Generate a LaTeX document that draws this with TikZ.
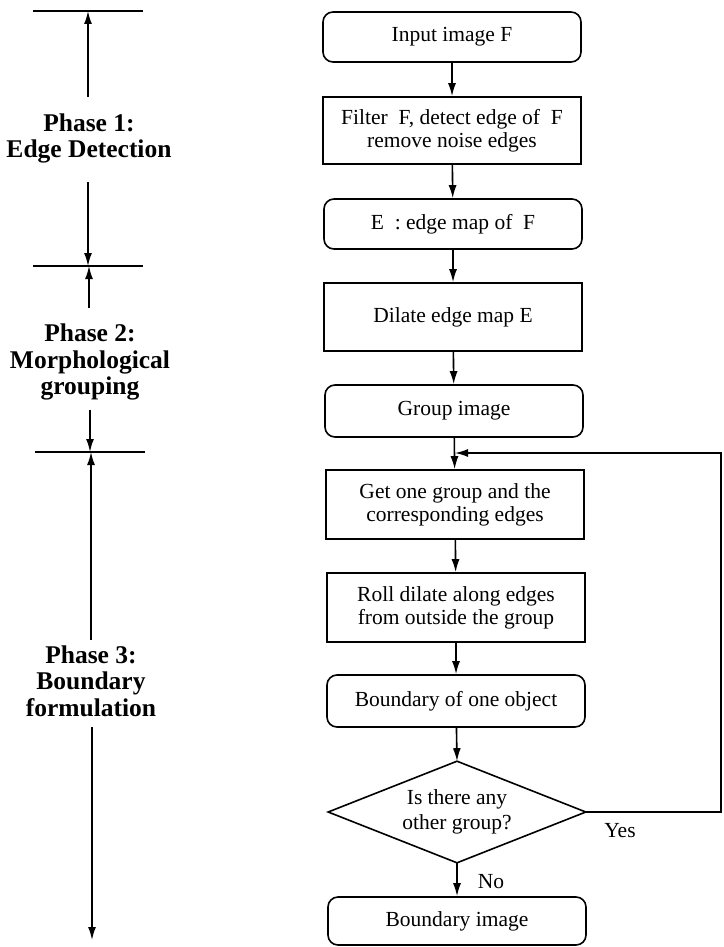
\documentclass[tikz,border=0pt]{standalone}
\usepackage{fontspec}
\setmainfont{Liberation Serif}
\usetikzlibrary{arrows.meta}
\begin{document}
\begin{tikzpicture}[x=1pt,y=-1pt,
  line width=1.6pt,
  arr/.style={-{Latex[length=13pt,width=8pt]}},
  proc/.style={draw, rectangle, minimum width=258pt, align=center, font=\fontsize{21.5}{23}\selectfont, inner sep=0pt},
  term/.style={proc, rounded corners=10pt},
  phase/.style={align=center, font=\fontsize{25.5}{26.5}\selectfont\bfseries},
  lbl/.style={font=\fontsize{21.5}{23}\selectfont}]
\useasboundingbox (0,0) rectangle (723,947);
% flow chart
\node[term, minimum height=50pt] (in) at (452,37) {Input image F};
\node[proc, minimum height=67pt] (filt) at (452,130.5) {Filter\ \ F, detect edge of\ \ F\\remove noise edges};
\node[term, minimum height=50pt] (emap) at (453,224) {E\ \ : edge map of\ \ F};
\node[proc, minimum height=68pt] (dil) at (453,317) {Dilate edge map E};
\node[term, minimum height=52pt] (grp) at (454,411) {Group image};
\node[proc, minimum height=69pt] (get) at (455,504.5) {Get one group and the\\corresponding edges};
\node[proc, minimum height=69pt] (roll) at (456,607.5) {Roll dilate along edges\\from outside the group};
\node[term, minimum height=52pt] (bone) at (456,701) {Boundary of one object};
\node[minimum width=256pt, minimum height=100pt, inner sep=0pt, align=center, font=\fontsize{21.5}{25}\selectfont] (dia) at (457,812) {Is there any\\other group?};
\draw (dia.north) -- (dia.east) -- (dia.south) -- (dia.west) -- cycle;
\node[term, minimum height=48pt] (bimg) at (457,921) {Boundary image};
\draw[arr] (in) -- (filt);
\draw[arr] (filt) -- (emap);
\draw[arr] (emap) -- (dil);
\draw[arr] (dil) -- (grp);
\draw[arr] (grp) -- (get);
\draw[arr] (get) -- (roll);
\draw[arr] (roll) -- (bone);
\draw[arr] (bone) -- (dia.north);
\draw[arr] (dia.south) -- (bimg);
\coordinate (fbR) at (721,812);
\coordinate (fbT) at (721,453);
\coordinate (fbE) at (455,453);
\draw[arr] (dia.east) -- (fbR) -- (fbT) -- (fbE);
\node[lbl] (yes) at (620,831) {Yes};
\node[lbl] (no) at (491,882) {No};
% phase annotations
\node[phase] (p1) at (89,138.5) {Phase 1:\\Edge Detection};
\node[phase] (p2) at (90,362) {Phase 2:\\Morphological\\grouping};
\node[phase] (p3) at (91,681) {Phase 3:\\Boundary\\formulation};
\coordinate (h1L) at (33,11);  \coordinate (h1R) at (143,11);
\coordinate (h2L) at (33,266); \coordinate (h2R) at (143,266);
\coordinate (h3L) at (35,452); \coordinate (h3R) at (145,452);
\draw (h1L) -- (h1R);
\draw (h2L) -- (h2R);
\draw (h3L) -- (h3R);
\coordinate (a1s) at (88,97);   \coordinate (a1e) at (88,11);
\coordinate (a2s) at (88,182);  \coordinate (a2e) at (88,266);
\coordinate (a3s) at (89,308);  \coordinate (a3e) at (89,266);
\coordinate (a4s) at (90,410);  \coordinate (a4e) at (90,452);
\coordinate (a5s) at (91,640);  \coordinate (a5e) at (91,452);
\coordinate (a6s) at (92,727);  \coordinate (a6e) at (92,940);
\draw[arr] (a1s) -- (a1e);
\draw[arr] (a2s) -- (a2e);
\draw[arr] (a3s) -- (a3e);
\draw[arr] (a4s) -- (a4e);
\draw[arr] (a5s) -- (a5e);
\draw[arr] (a6s) -- (a6e);
\end{tikzpicture}
\end{document}
